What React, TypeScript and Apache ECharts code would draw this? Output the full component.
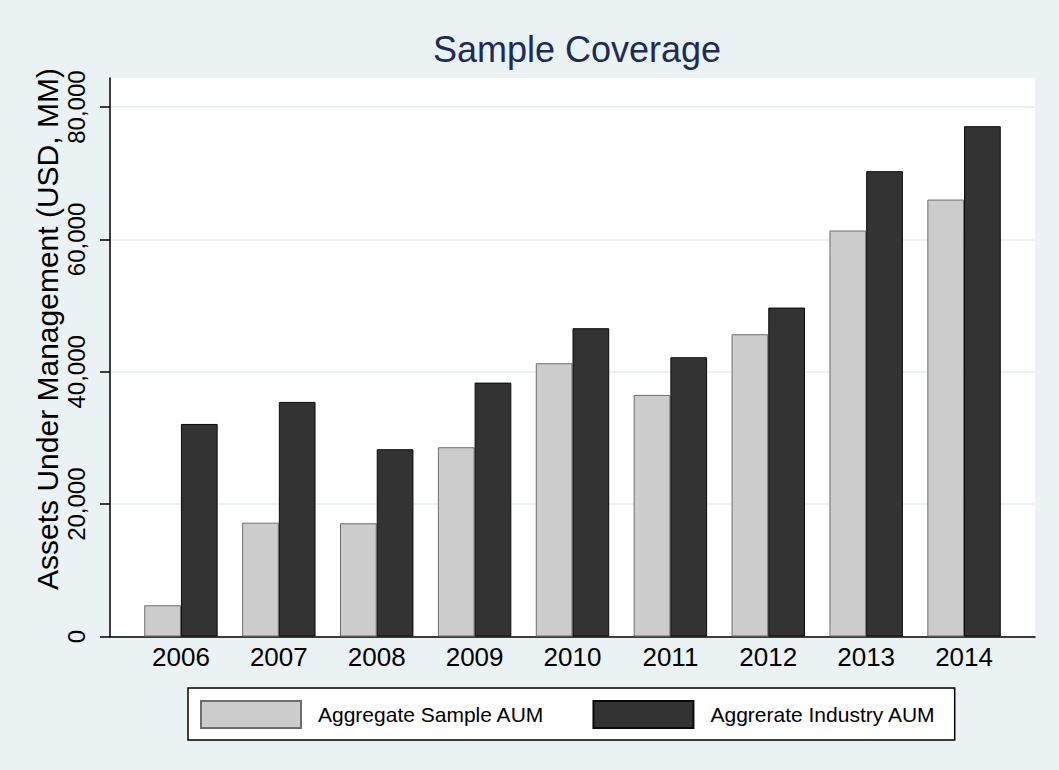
import React, { useEffect, useRef } from "react";
import * as echarts from "echarts";

const years = ["2006", "2007", "2008", "2009", "2010", "2011", "2012", "2013", "2014"];
const sampleAUM = [4720, 17200, 17110, 28600, 41300, 36510, 45680, 61350, 66030];
const industryAUM = [32120, 35450, 28300, 38370, 46590, 42200, 49710, 70320, 77120];
const yTicks = [0, 20000, 40000, 60000, 80000];
const yMax = 84400;
const seriesNames = ["Aggregate Sample AUM", "Aggrerate Industry AUM"];

const FONT = "'Liberation Sans', Arial, Helvetica, sans-serif";

export default function App() {
  const ref = useRef<HTMLDivElement>(null);
  useEffect(() => {
    document.body.style.margin = "0";
    const chart = echarts.init(ref.current!, undefined, { renderer: "svg" });
    const fmt = (v: number) => v.toLocaleString("en-US");
    chart.setOption({
      animation: false,
      backgroundColor: "#EAF2F3",
      textStyle: { fontFamily: FONT },
      title: {
        text: "Sample Coverage",
        left: 572,
        textAlign: "center",
        top: 26,
        textStyle: { fontFamily: FONT, fontSize: 36, fontWeight: "normal", color: "#1c2b58" },
      },
      graphic: [
        {
          type: "text",
          x: 47,
          y: 329,
          rotation: Math.PI / 2,
          style: {
            text: "Assets Under Management (USD, MM)",
            font: `30px ${FONT}`,
            fill: "#000",
            textAlign: "center",
            textVerticalAlign: "middle",
            align: "center",
            verticalAlign: "middle",
          },
        },
      ],
      legend: {
        data: seriesNames,
        left: 188,
        top: 688,
        orient: "horizontal",
        padding: [12, 19, 11, 12],
        itemWidth: 100,
        itemHeight: 27,
        itemGap: 48,
        icon: "rect",
        backgroundColor: "#ffffff",
        borderColor: "#000000",
        borderWidth: 1.5,
        borderRadius: 0,
        textStyle: { fontFamily: FONT, fontSize: 21, color: "#000", padding: [0, 0, 0, 12] },
      },
      grid: [
        { left: 110, right: 24, top: 78, height: 558.5, show: true, backgroundColor: "#ffffff", borderWidth: 0 },
        { left: 132, right: 46, top: 78, height: 558.5, show: false },
      ],
      xAxis: [
        {
          gridIndex: 0,
          type: "category",
          data: years,
          axisLine: { show: true, lineStyle: { color: "#000", width: 1.5 } },
          axisTick: { show: false },
          axisLabel: { show: false },
          splitLine: { show: false },
        },
        {
          gridIndex: 1,
          type: "category",
          data: years,
          axisLine: { show: false },
          axisTick: { show: false },
          axisLabel: { fontSize: 26, color: "#000", margin: 7, fontFamily: FONT },
          splitLine: { show: false },
        },
      ],
      yAxis: [
        {
          gridIndex: 0,
          type: "value",
          min: 0,
          max: yMax,
          axisLine: { show: true, lineStyle: { color: "#000", width: 1.5 } },
          axisTick: { show: true, length: 10, customValues: yTicks, lineStyle: { color: "#000", width: 1.5 } },
          axisLabel: {
            customValues: yTicks,
            rotate: 90,
            fontSize: 24,
            margin: 22,
            color: "#000",
            fontFamily: FONT,
            formatter: fmt,
          },
          splitLine: { show: true, lineStyle: { color: "#EAF2F3", width: 2 } },
        },
        { gridIndex: 1, type: "value", min: 0, max: yMax, show: false, splitLine: { show: false } },
      ],
      series: [
        {
          name: seriesNames[0],
          type: "bar",
          xAxisIndex: 1,
          yAxisIndex: 1,
          data: sampleAUM,
          barGap: "0%",
          barCategoryGap: "25%",
          itemStyle: { color: "#CCCCCC", borderColor: "#6e6e6e", borderWidth: 1 },
        },
        {
          name: seriesNames[1],
          type: "bar",
          xAxisIndex: 1,
          yAxisIndex: 1,
          data: industryAUM,
          barGap: "0%",
          barCategoryGap: "25%",
          itemStyle: { color: "#333333", borderColor: "#0a0a0a", borderWidth: 1 },
        },
      ],
    });
    return () => chart.dispose();
  }, []);
  return <div ref={ref} style={{ width: 1059, height: 770 }} />;
}
